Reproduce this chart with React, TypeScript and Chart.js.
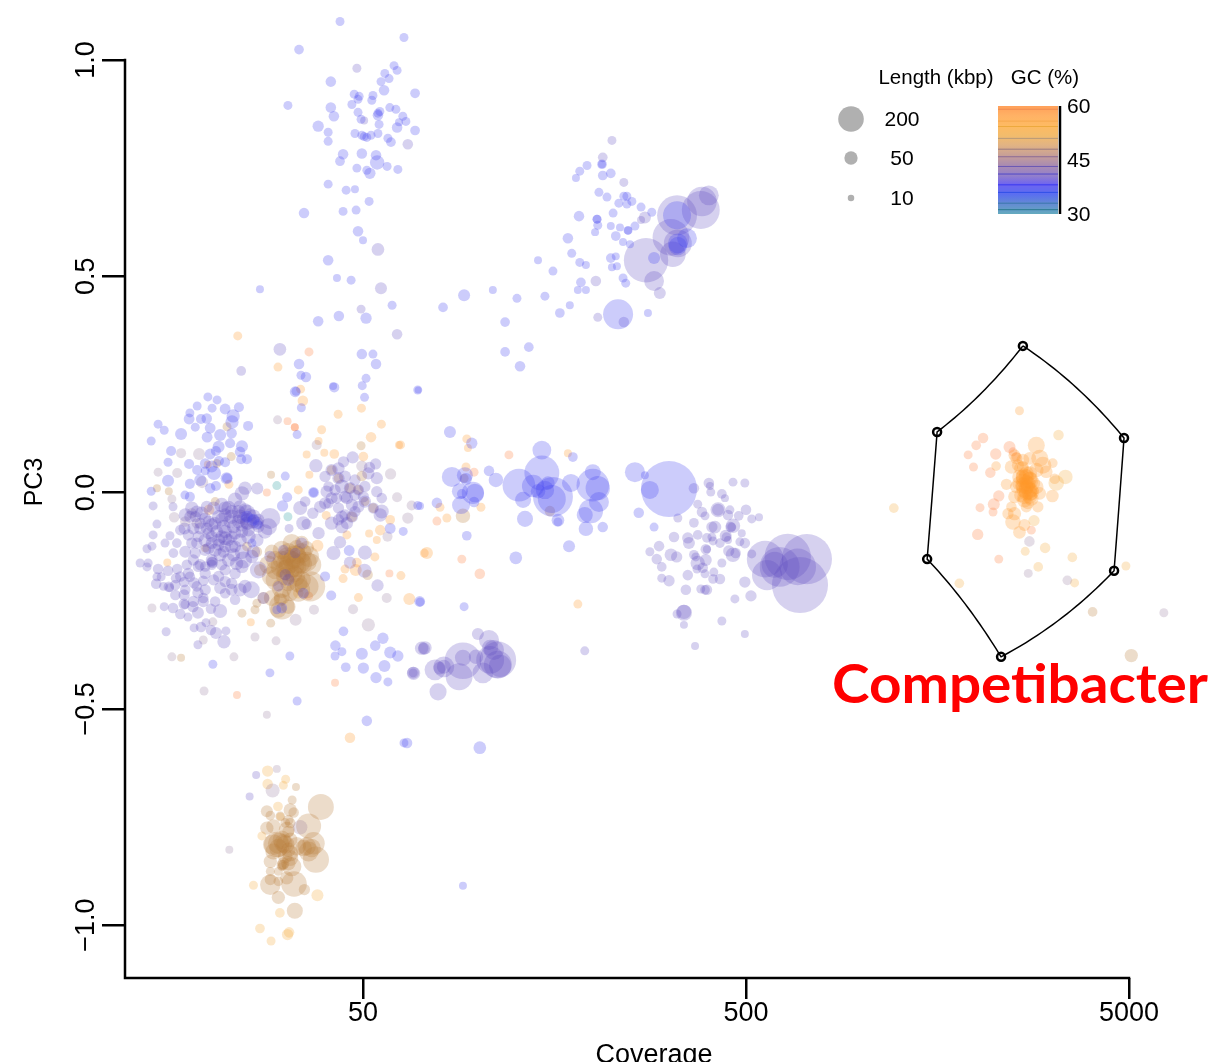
import React, { useEffect, useRef } from "react";
import { Chart, registerables } from "chart.js";

Chart.register(...registerables);

// Every point: [log10(coverage), PC3, contig length in kbp]
type P = [number, number, number];

const topCloudBlue: P[] = [
[1.639,1.089,21],[1.806,1.052,21],[1.532,1.024,25],[1.780,.987,21],[1.788,.976,21],[1.756,.969,21],[1.767,.957,21],[1.746,.950,21],[1.615,.950,30],[1.754,.930,30],[1.835,.923,25],[1.676,.921,21],[1.689,.916,21],[1.686,.909,21],[1.725,.918,21],[1.722,.907,21],[1.503,.895,21],[1.670,.897,21],[1.615,.890,30],[1.769,.890,21],[1.785,.886,21],[1.743,.881,21],[1.738,.872,30],[1.738,.877,21],[1.686,.879,21],[1.623,.870,30],[1.803,.870,21],[1.694,.863,21],[1.811,.858,21],[1.582,.847,35],[1.741,.851,21],[1.788,.844,30],[1.793,.856,16],[1.835,.837,25],[1.608,.833,21],[1.678,.830,21],[1.696,.826,21],[1.709,.821,21],[1.720,.826,21],[1.702,.823,21],[1.738,.830,21],[1.764,.819,21],[1.772,.810,25],[1.608,.812,21],[1.647,.782,30],[1.696,.784,30],[1.733,.780,30],[1.639,.766,25],[1.736,.763,60],[1.683,.750,21],[1.762,.754,21],[1.709,.745,21],[1.717,.738,35],[1.790,.747,21],[1.608,.713,21],[1.655,.699,21],[1.678,.701,16],[1.715,.673,21],[1.545,.646,30],[1.647,.650,21],[1.681,.653,21],[1.686,.604,30],[1.699,.583,16],[1.608,.537,30],[1.631,.496,16],[1.668,.491,21],[1.775,.433,21],[1.707,.403,35],[1.636,.408,30],[1.582,.396,30],[1.532,.297,30],[1.550,.267,30],[1.696,.320,30],[1.725,.320,21],[1.733,.297,30],[1.707,.264,21],[1.430,.470,16],[1.843,.237,12],[1.621,.246,16],[1.524,.234,21],[1.537,.271,21]
];
const topCloudPurple: P[] = [
[1.683,.981,21],[1.702,.860,16],[1.816,.805,30],[1.738,.562,45],[1.746,.472,40],[1.694,.424,21],[1.788,.366,30],[1.482,.331,45],[1.381,.281,25]
];
const upperRightBlue: P[] = [
[2.323,.759,25],[2.323,.759,16],[2.284,.756,21],[2.265,.743,21],[2.325,.733,25],[2.346,.738,25],[2.255,.727,16],[2.315,.694,21],[2.336,.683,21],[2.388,.685,21],[2.380,.685,21],[2.367,.669,21],[2.388,.667,21],[2.401,.673,21],[2.425,.660,21],[2.453,.648,21],[2.352,.646,21],[2.263,.639,30],[2.310,.632,21],[2.310,.632,21],[2.312,.618,21],[2.305,.602,16],[2.346,.616,16],[2.370,.613,16],[2.391,.606,21],[2.391,.606,16],[2.409,.616,21],[2.359,.593,25],[2.234,.588,30],[2.378,.579,16],[2.396,.574,16],[2.244,.553,21],[2.346,.542,25],[2.359,.546,16],[2.265,.532,21],[2.281,.526,16],[2.349,.521,16],[2.362,.523,16],[2.156,.537,16],[2.195,.512,21],[2.378,.496,21],[2.385,.484,21],[2.268,.486,25],[2.260,.468,16],[2.281,.468,16],[1.963,.456,40],[1.908,.428,25],[2.038,.468,16],[2.101,.449,21],[2.174,.454,21],[2.239,.433,16],[2.213,.415,25],[2.070,.394,25],[2.443,.415,16],[2.365,.412,278],[2.070,.325,25],[2.132,.336,25],[2.109,.292,30],[2.459,.542,40],[2.519,.641,240],[2.545,.588,117],[2.521,.576,117],[2.521,.57,100]
];
const upperRightPurple: P[] = [
[2.349,.814,21],[2.325,.775,25],[2.380,.717,21],[2.435,.636,40],[2.425,.630,16],[2.307,.489,30],[2.312,.405,21],[2.380,.394,30],[2.438,.537,620],[2.459,.489,117],[2.474,.461,40],[2.519,.641,500],[2.581,.653,450],[2.584,.673,270],[2.602,.687,117],[2.503,.590,420],[2.508,.551,200],[2.521,.576,240]
];
const midBlue: P[] = [
[1.926,.140,40],[1.983,.114,35],[2.247,.082,25],[2.166,.098,105],[2.166,.045,380],[2.106,.017,330],[2.299,.047,75],[2.299,.017,330],[2.312,.010,180],[2.242,.022,96],[2.195,-.010,500],[2.192,-.015,240],[2.182,.022,50],[2.143,.015,150],[2.174,.006,100],[2.156,.003,60],[2.117,-.017,75],[2.315,-.022,120],[2.294,-.043,180],[2.278,-.052,75],[2.122,-.061,75],[2.208,-.064,45],[2.208,-.068,21],[2.281,-.084,60],[2.325,-.080,30],[2.237,-.124,40],[2.098,-.151,45],[1.970,-.100,25],[1.963,-.264,21],[1.931,.036,120],[1.965,.040,75],[1.968,.031,40],[2.028,.050,30],[2.046,.029,60],[1.952,.003,75],[1.986,-.001,150],[1.991,-.001,100],[1.957,-.003,25],[1.989,-.022,30],[1.955,-.029,96],[1.892,-.024,30],[1.848,-.031,16],[2.498,.008,1000],[2.409,.047,120],[2.448,.006,96],[2.435,.040,16],[2.419,-.047,30],[2.459,-.080,21]
];
const rightSwarmPurple: P[] = [
[2.563,.010,30],[2.602,.022,30],[2.605,.015,16],[2.665,.024,21],[2.696,.022,21],[2.607,.001,21],[2.636,-.003,25],[2.644,-.013,16],[2.573,-.027,21],[2.584,-.045,30],[2.592,-.054,21],[2.626,-.040,65],[2.626,-.040,40],[2.657,-.040,21],[2.652,-.052,30],[2.699,-.040,30],[2.680,-.054,25],[2.714,-.061,21],[2.733,-.057,16],[2.521,-.059,21],[2.563,-.070,25],[2.659,-.080,30],[2.665,-.077,60],[2.662,-.080,21],[2.618,-.080,45],[2.610,-.080,35],[2.646,-.100,40],[2.648,-.103,25],[2.688,-.094,16],[2.573,-.098,25],[2.511,-.103,30],[2.547,-.105,35],[2.550,-.117,40],[2.597,-.105,25],[2.610,-.103,21],[2.613,-.112,21],[2.631,-.117,25],[2.652,-.110,16],[2.683,-.114,21],[2.696,-.117,30],[2.472,-.124,30],[2.448,-.137,21],[2.594,-.131,30],[2.597,-.131,16],[2.503,-.144,45],[2.518,-.149,35],[2.654,-.135,35],[2.665,-.144,60],[2.672,-.140,30],[2.714,-.142,21],[2.466,-.154,30],[2.479,-.172,25],[2.563,-.144,25],[2.568,-.149,21],[2.594,-.156,40],[2.573,-.163,60],[2.586,-.174,30],[2.571,-.177,21],[2.592,-.188,21],[2.615,-.184,21],[2.636,-.163,21],[2.613,-.200,25],[2.631,-.200,30],[2.547,-.191,30],[2.479,-.198,21],[2.498,-.204,35],[2.542,-.225,30],[2.581,-.223,21],[2.597,-.225,30],[2.592,-.225,25],[2.696,-.207,35],[2.712,-.239,35],[2.670,-.246,21],[2.636,-.297,21],[2.696,-.327,16],[2.566,-.355,16],[2.537,-.278,75],[2.537,-.276,60],[2.519,-.281,21],[2.537,-.306,16],[2.278,-.366,21],[2.749,-.154,420],[2.754,-.191,280],[2.787,-.172,500],[2.808,-.149,680],[2.858,-.154,800],[2.840,-.214,1000],[2.834,-.172,420],[2.774,-.167,210]
];
const lowerClusterPurple: P[] = [
[1.999,-.327,40],[2.028,-.341,120],[2.041,-.364,120],[2.031,-.359,75],[2.051,-.387,420],[2.051,-.398,240],[2.057,-.401,150],[2.031,-.387,240],[1.994,-.380,60],[1.960,-.389,420],[1.960,-.382,75],[1.950,-.426,220],[2.012,-.417,130],[1.910,-.403,130],[1.910,-.403,56],[1.887,-.410,130],[1.899,-.406,45],[1.895,-.461,85],[1.861,-.359,50],[1.858,-.361,40],[1.830,-.417,40],[1.830,-.417,21],[1.831,-.418,50],[1.852,-.360,50]
];
const lowerScatterBlue: P[] = [
[1.648,-.321,25],[1.627,-.354,30],[1.644,-.368,21],[1.626,-.378,21],[1.696,-.373,40],[1.731,-.354,30],[1.751,-.337,35],[1.770,-.370,40],[1.790,-.378,35],[1.755,-.401,40],[1.700,-.406,35],[1.654,-.404,25],[1.733,-.428,35],[1.764,-.438,21],[1.709,-.528,30],[1.814,-.579,30],[1.806,-.579,21],[2.004,-.590,45],[1.960,-.909,16],[1.848,-.253,21],[1.527,-.482,21]
];
const leftSwarmBlue: P[] = [
[1.294,.221,21],[1.318,.214,21],[1.266,.200,21],[1.247,.184,21],[1.305,.195,21],[1.339,.193,32],[1.375,.197,27],[1.245,.170,32],[1.276,.170,27],[1.360,.177,50],[1.357,.163,50],[1.164,.158,21],[1.180,.144,21],[1.224,.135,40],[1.261,.151,21],[1.300,.149,32],[1.399,.154,27],[1.326,.133,40],[1.292,.128,32],[1.146,.119,21],[1.352,.114,27],[1.383,.107,40],[1.198,.096,27],[1.315,.096,27],[1.300,.089,32],[1.190,.070,21],[1.245,.066,27],[1.339,.070,27],[1.323,.073,27],[1.381,.077,27],[1.396,.077,27],[1.266,.052,27],[1.287,.050,21],[1.310,.045,56],[1.344,.033,27],[1.190,.027,40],[1.247,.020,27],[1.315,.015,27],[1.146,.003,21],[1.234,-.006,21],[1.247,-.010,27],[1.409,-.117,21],[1.307,-.397,21],[1.456,-.417,21],[1.508,-.378,21],[1.522,.233,32],[1.624,.243,27],[1.697,.247,21],[1.703,.220,21],[1.538,.196,21],[1.527,.134,21],[1.842,.237,21],[1.496,.038,21],[1.501,-.011,27],[1.489,-.031,35],[1.570,.000,32],[1.570,.000,21],[1.663,-.134,32],[1.847,-.252,32],[1.842,-.030,21],[1.770,-.083,32],[1.804,-.090,21],[1.543,-.233,32],[1.600,-.194,27],[1.616,-.238,27],[1.487,-.267,32],[1.474,-.271,21],
[1.396,-.056,40],[1.413,-.063,40],[1.424,-.073,25],
[1.291,.171,30],[1.356,.137,30],[1.322,.106,40],[1.378,.094,30],[1.287,.067,30],[1.304,.060,40],[1.274,.029,40],[1.300,.010,30],[1.343,.033,40]
];
const leftCorePurple: P[] = [
[1.235,-.052,50],[1.252,-.036,50],[1.261,-.056,35],[1.278,-.048,50],[1.291,-.033,40],[1.309,-.036,50],[1.330,-.029,60],[1.348,-.036,60],[1.365,-.017,60],[1.383,-.002,60],[1.391,.010,50],[1.378,-.033,50],[1.396,-.048,85],[1.413,-.056,60],[1.400,-.067,85],[1.378,-.056,60],[1.356,-.056,60],[1.339,-.052,50],[1.322,-.056,50],[1.304,-.075,50],[1.291,-.083,40],[1.274,-.071,35],[1.256,-.083,40],[1.233,-.083,40],[1.335,-.079,56],[1.361,-.079,50],[1.383,-.075,50],[1.422,-.071,50],[1.443,-.090,60],[1.456,-.060,130],[1.452,-.079,85],[1.339,-.106,56],[1.322,-.110,50],[1.356,-.102,40],[1.304,-.102,40],[1.287,-.110,50],[1.269,-.102,35],[1.252,-.117,35],[1.235,-.137,40],[1.261,-.140,35],[1.287,-.133,40],[1.313,-.133,50],[1.335,-.137,40],[1.361,-.144,50],[1.387,-.156,85],[1.304,-.156,40],[1.306,-.162,35],[1.269,-.171,35],[1.339,-.179,35],[1.365,-.187,35],[1.383,-.171,50],[1.409,-.148,50],[1.274,-.167,35],[1.243,-.187,35],[1.322,-.194,35],[1.339,-.206,35],[1.356,-.210,35],[1.378,-.225,50],[1.407,-.225,85],[1.391,-.217,50],[1.426,-.179,85],
[1.339,-.036,50],[1.356,-.044,50],[1.374,-.044,50],[1.391,-.040,50],[1.404,-.052,50],[1.387,-.060,50],[1.413,-.067,50],[1.426,-.063,40],[1.396,-.071,50],[1.374,-.067,50],[1.352,-.067,50],[1.330,-.063,50],[1.313,-.071,45],[1.296,-.067,40],[1.339,-.090,50],[1.317,-.090,45],[1.296,-.094,40],[1.365,-.094,45],[1.383,-.090,45],[1.400,-.087,45],[1.426,-.079,40],[1.330,-.102,45],[1.348,-.110,40],[1.322,-.121,40],[1.304,-.117,40],[1.339,-.125,40],[1.365,-.125,40],[1.304,-.160,30],[1.304,-.167,30],[1.287,-.171,30],
[1.151,-.031,21],[1.203,-.033,21],[1.161,-.073,21],[1.151,-.098,21],[1.195,-.100,21],[1.135,-.130,21],[1.148,-.124,21],[1.117,-.163,21],[1.138,-.163,21],[1.135,-.172,21],[1.164,-.177,30],[1.190,-.181,30],[1.214,-.177,30],[1.161,-.195,21],[1.172,-.195,21],[1.159,-.211,30],[1.211,-.198,30],[1.192,-.218,30],[1.194,-.220,21],[1.232,-.207,30],[1.247,-.195,30],[1.258,-.209,35],[1.282,-.204,30],[1.209,-.237,30],[1.232,-.237,35],[1.268,-.232,35],[1.282,-.244,30],[1.232,-.258,35],[1.234,-.259,21],[1.180,-.264,21],[1.203,-.267,30],[1.255,-.264,35],[1.222,-.281,30],[1.268,-.278,40],[1.242,-.288,21],[1.302,-.269,30],[1.326,-.274,56],[1.258,-.313,21],[1.276,-.311,30],[1.289,-.301,21],[1.302,-.318,30],[1.315,-.325,40],[1.341,-.320,21],[1.268,-.352,21],[1.336,-.345,50],[1.185,-.322,21],
[1.478,-.217,30],[1.496,-.190,35],[1.491,-.133,30],[1.456,-.148,35],[1.522,-.140,30],[1.504,-.202,40],[1.539,-.117,35],[1.439,-.244,40],[1.423,.009,40],
[1.248,-.056,40],[1.265,-.044,40],[1.287,-.060,40],[1.274,-.083,40],[1.243,-.098,35],[1.265,-.117,35],[1.296,-.129,40],[1.326,-.144,50],[1.348,-.156,50],[1.369,-.164,50],[1.330,-.167,35],[1.356,-.125,50],[1.378,-.110,50],[1.400,-.102,60],[1.422,-.110,50],[1.413,-.137,50],[1.383,-.137,60],[1.256,-.156,35],[1.239,-.167,30],[1.287,-.187,35],[1.309,-.202,35],[1.326,-.221,40],[1.287,-.225,35],[1.265,-.217,30],[1.235,-.225,30],[1.209,-.214,30],[1.256,-.252,35],[1.282,-.252,35],[1.313,-.252,30],[1.356,-.225,40],[1.365,-.248,30],[1.339,-.233,30],[1.222,-.194,30],[1.204,-.140,25],[1.213,-.117,25],[1.222,-.087,30],[1.182,-.117,21],[1.178,-.217,21]
];
const centreSwarmPurple: P[] = [
[1.576,.062,50],[1.617,.052,42],[1.635,.056,42],[1.648,.071,35],[1.672,.081,42],[1.716,.058,35],[1.732,.066,35],[1.713,.044,42],[1.735,.033,42],[1.600,.037,35],[1.635,.033,42],[1.609,.014,30],[1.626,.006,35],[1.644,.014,56],[1.665,.010,42],[1.687,.006,35],[1.704,.014,35],[1.735,.002,35],[1.748,-.013,30],[1.678,-.006,35],[1.700,-.010,35],[1.630,-.013,35],[1.657,-.013,42],[1.604,.002,42],[1.548,-.021,30],[1.535,-.036,56],[1.568,-.048,35],[1.587,-.033,42],[1.609,-.025,30],[1.635,-.036,35],[1.670,-.029,42],[1.704,-.021,42],[1.726,-.036,35],[1.748,-.044,56],[1.744,-.052,50],[1.644,-.056,42],[1.670,-.056,42],[1.657,-.071,42],[1.617,-.071,50],[1.644,-.079,50],[1.583,-.094,42],[1.543,-.071,56],[1.552,-.073,30],[1.506,-.083,21],[1.704,-.139,56],[1.622,-.140,56],[1.639,-.115,42],[1.665,-.162,42],[1.703,-.181,56],[1.737,-.215,42],
[1.600,-.025,40],[1.617,-.013,40],[1.678,.029,35],[1.652,.037,40],[1.652,-.010,40],[1.687,-.033,40],[1.678,-.044,35],[1.635,-.063,35],[1.652,-.052,35]
];
const mauveScattered: P[] = [
[1.224,.091,27],[1.271,.089,40],[1.164,.047,21],[1.214,.045,27],[1.279,.024,40],[1.200,-.015,21],[1.282,-.341,21],[1.417,-.334,21],[1.472,-.343,21],[1.200,-.380,21],[1.362,-.380,21],[1.307,-.299,21],[1.696,.061,35],[1.771,.043,35],[1.788,-.011,27],[1.826,-.030,27],[1.816,-.059,35],[1.763,-.102,27],[1.761,-.244,27],[1.673,-.270,27],[1.476,.168,21],[1.578,.110,27],[1.571,-.271,27],[1.523,-.294,40],[1.713,-.306,50],[1.448,-.514,16],[1.284,-.459,21],[1.350,-.826,16],[1.474,-.639,16],[1.463,-.689,56],[1.535,-.774,60],[1.148,-.267,21],[3.439,-.113,30],[3.436,-.187,21],[3.538,-.203,25],[3.790,-.278,21],[1.206,-.057,30],[1.252,-.048,30],[1.235,-.067,30],[1.265,-.071,30]
];
const brownCluster: P[] = [
[1.513,-.117,100],[1.539,-.117,60],[1.461,-.137,60],[1.487,-.133,100],[1.526,-.144,100],[1.557,-.148,130],[1.504,-.160,175],[1.522,-.171,150],[1.487,-.156,100],[1.539,-.164,130],[1.561,-.167,150],[1.470,-.179,100],[1.496,-.179,120],[1.517,-.187,100],[1.474,-.202,150],[1.504,-.210,75],[1.539,-.202,100],[1.552,-.217,170],[1.487,-.241,75],[1.461,-.244,75],[1.483,-.248,50],[1.504,-.264,60],[1.478,-.271,75],[1.439,-.244,40],[1.430,-.179,40],[1.422,-.137,30],[1.396,-.125,25],
[1.504,-.140,120],[1.522,-.148,150],[1.539,-.140,120],[1.487,-.171,150],[1.513,-.167,200],[1.530,-.160,175],[1.552,-.160,120],[1.504,-.179,150],[1.522,-.194,120],[1.496,-.194,100],[1.470,-.156,100],[1.452,-.167,100],[1.461,-.194,120],[1.530,-.210,100],[1.487,-.221,120],[1.509,-.233,75],[1.513,-.156,100],[1.500,-.148,100],[1.526,-.129,80],[1.552,-.129,60],[1.530,-.225,170],[1.487,-.264,200],[1.561,-.217,280],
[1.665,.010,30],[1.635,.033,25],[1.726,-.036,25],[1.687,.006,25],[1.670,-.056,30],[1.696,.038,30],[1.617,.052,25],[1.704,-.021,21],[1.313,-.021,21],[1.344,.152,21],[1.694,.108,21],[1.355,.083,21],[1.317,.067,21],[1.287,-.129,16],[1.459,.041,16],[1.711,-.190,30],[1.224,-.382,16],[1.422,-.256,21],[1.417,-.271,21],[1.458,-.302,21],[1.383,-.279,21],[1.161,.010,16],[1.192,.003,16],[2.187,-.043,30],[1.960,-.054,60],[1.963,.033,21]
];
const bottomBrown: P[] = [
[1.524,-.681,16],[1.514,-.711,21],[1.589,-.727,205],[1.448,-.737,40],[1.457,-.747,25],[1.509,-.734,50],[1.518,-.740,30],[1.465,-.772,60],[1.448,-.776,50],[1.504,-.757,30],[1.557,-.771,190],[1.500,-.780,75],[1.478,-.811,130],[1.474,-.814,200],[1.491,-.811,100],[1.465,-.814,130],[1.509,-.803,60],[1.504,-.826,60],[1.526,-.818,100],[1.552,-.818,100],[1.570,-.811,150],[1.557,-.830,120],[1.509,-.845,75],[1.487,-.861,30],[1.491,-.857,40],[1.513,-.865,110],[1.576,-.849,210],[1.457,-.853,50],[1.478,-.876,21],[1.457,-.876,21],[1.457,-.895,35],[1.457,-.907,125],[1.519,-.905,200],[1.478,-.899,25],[1.500,-.891,50],[1.546,-.918,35],[1.478,-.936,50],[1.521,-.967,75],[3.604,-.276,25],[3.705,-.377,50],
[1.487,-.803,100],[1.496,-.814,100],[1.478,-.822,100],[1.509,-.834,75],[1.496,-.841,60],[1.544,-.822,80],[1.565,-.822,100],[1.504,-.784,40],[1.491,-.861,30],[1.487,-.865,21],[1.465,-.830,75],[1.504,-.857,60],[1.483,-.749,25],[1.496,-.764,25],[1.509,-.764,30]
];
const bottomPurple: P[] = [[1.420,-.653,16],[1.403,-.703,16]];
const yellowScattered: P[] = [
[1.450,-.644,35],[1.497,-.663,21],[1.450,-.674,30],[1.491,-.677,21],[1.477,-.726,25],[1.413,-.908,21],[1.580,-.931,40],[1.482,-.972,25],[1.430,-1.008,25],[1.459,-1.037,21],[1.502,-1.022,35],[1.506,-1.017,30],[1.435,-.794,21],[1.483,-.749,16],[1.530,-.233,30],[3.515,.133,30],[3.509,.022,70],[3.533,.036,60],[3.451,-.065,35],[3.428,-.136,21],[3.480,-.128,30],[3.551,-.150,25],[3.462,-.172,25],[3.557,-.209,21],[3.256,-.210,25],[3.085,-.036,25],[3.691,-.170,21]
];
const orangeScattered: P[] = [
[1.536,.239,21],[1.542,.212,30],[1.634,.181,21],[1.695,.195,21],[1.747,.158,21],[1.591,.145,21],[1.720,.128,30],[1.797,.110,21],[1.552,.088,16],[1.598,.092,16],[1.624,.089,25],[1.700,.083,25],[1.583,.119,16],[1.559,.041,16],[1.530,.006,21],[1.603,-.053,21],[1.580,-.123,40],[1.657,-.098,21],[1.715,-.095,16],[1.735,-.110,16],[1.744,-.087,30],[1.770,-.063,25],[1.730,-.149,21],[1.652,-.177,21],[1.680,-.179,40],[1.683,-.162,25],[1.798,-.192,21],[1.647,-.199,21],[1.687,-.243,21],[1.820,-.246,40],[1.859,-.140,21],[1.188,-.162,16],[1.349,.019,21],[1.294,.065,16],[1.297,-.040,30],[1.406,-.300,16],[1.665,-.567,30],[1.372,.362,21],[1.477,.290,21],[1.793,.110,16],[1.970,.124,21],[1.973,.103,16],[2.234,.091,16],[1.968,.059,21],[2.007,-.034,21],[1.900,-.034,21],[1.918,-.059,21],[1.866,-.140,40],[2.260,-.258,21]
];
const orangeHullCloud: P[] = [
[3.413,.189,21],[3.352,.061,25],[3.457,.109,85],[3.392,.059,50],[3.422,.075,45],[3.440,.079,45],[3.466,.079,85],[3.474,.063,85],[3.500,.068,25],[3.483,.048,45],[3.457,.052,60],[3.418,.055,60],[3.426,.036,85],[3.413,.036,60],[3.440,.028,85],[3.422,.017,70],[3.457,.013,60],[3.435,.005,100],[3.466,-.002,45],[3.405,.013,45],[3.379,.019,35],[3.418,-.006,60],[3.444,-.014,60],[3.426,-.018,60],[3.400,-.010,45],[3.392,-.033,30],[3.431,-.033,35],[3.461,-.033,35],[3.400,-.049,50],[3.383,-.049,35],[3.396,-.068,70],[3.499,-.008,45],[3.505,.032,30],[3.426,-.075,40],[3.413,-.092,45],[3.431,.036,70],[3.435,.020,70],[3.440,-.002,70],[3.431,.013,60],[3.422,.028,60],[3.440,.044,60],[3.444,.000,70],[3.426,.005,70],
[3.431,.044,60],[3.422,.036,60],[3.440,.032,60],[3.431,.025,60],[3.422,.013,60],[3.435,.013,60],[3.444,.005,60],[3.431,-.002,60],[3.440,-.010,60],[3.426,-.010,60],[3.413,.021,60],[3.448,.021,60],[3.400,.086,40],[3.405,.079,40],[3.409,.063,40],[3.422,.059,40],[3.435,-.025,40]
];
const salmonScattered: P[] = [
[1.558,.325,21],[1.448,.000,16],[1.502,.165,16],[1.521,.151,16],[1.521,.151,16],[1.768,-.187,16],[1.557,-.239,21],[1.626,-.440,16],[1.370,-.468,16],[2.080,.087,21],[1.989,.047,21],[1.892,-.066,21],[1.957,-.154,21],[2.004,-.188,30],
[3.318,.126,30],[3.300,.109,25],[3.279,.087,21],[3.293,.059,21],[3.351,.089,35],[3.337,.046,30],[3.387,.105,40],[3.396,.094,21],[3.405,.082,25],[3.359,-.008,35],[3.346,-.027,40],[3.344,-.045,21],[3.310,-.035,21],[3.304,-.097,35],[3.444,-.087,21],[3.359,-.154,21]
];
const tealScattered: P[] = [[1.474,.016,21],[1.503,-.056,21]];

const hullLogCoverage = [3.422, 3.686, 3.660, 3.365, 3.172, 3.198];
const hullPc3 = [0.339, 0.126, -0.181, -0.380, -0.154, 0.140];

const xTicks = [50, 500, 5000];
const yTicks = [-1, -0.5, 0, 0.5, 1];
const legendLengths = [200, 50, 10];
const colourbarTicks = [60, 45, 30];
const colourbarStops = ["#ffa05a","#ffb265","#feba62","#f2bc6c","#e1b384","#c8a096","#ab8cb0","#9682c8","#6e64f0","#5a6ef0","#648cd2","#64aabe"];
const colourbarLines = ["#f08a50","#f6a84e","#eda93e","#b89a78","#9a7a80","#8a6a96","#6a58b4","#5048c8","#3838f0","#3050e8","#3a78a8","#2a7a90"];
const colourbarLinePos = [0.03, 0.14, 0.19, 0.30, 0.40, 0.47, 0.56, 0.63, 0.73, 0.80, 0.90, 0.96];

const gcColours: Record<number, string> = {
  33: "rgba(60,165,170,0.30)",
  38: "rgba(65,65,240,0.27)",
  42: "rgba(90,70,190,0.25)",
  46: "rgba(130,100,140,0.22)",
  50: "rgba(185,125,60,0.27)",
  54: "rgba(245,170,60,0.27)",
  57: "rgba(255,150,40,0.27)",
  60: "rgba(255,125,60,0.27)",
};

const seriesByGc: [P[], number][] = [
  [leftSwarmBlue, 38], [leftCorePurple, 42], [centreSwarmPurple, 42], [topCloudBlue, 38], [topCloudPurple, 42],
  [upperRightBlue, 38], [upperRightPurple, 42], [midBlue, 38], [rightSwarmPurple, 42], [lowerClusterPurple, 42],
  [lowerScatterBlue, 38], [mauveScattered, 46], [brownCluster, 50], [bottomBrown, 50], [bottomPurple, 42],
  [yellowScattered, 54], [orangeScattered, 57], [orangeHullCloud, 57], [salmonScattered, 60], [tealScattered, 33],
];

const bubbleRadius = (len: number) => 0.5 + 0.87 * Math.sqrt(len);
const SANS = '"Liberation Sans", Arial, sans-serif';

const overlay = {
  id: "overlay",
  afterDatasetsDraw(chart: any) {
    const { ctx, scales } = chart;
    const x = scales.x, y = scales.y;
    ctx.save();
    // R-style axis lines that stop at the outer tick / corner
    ctx.strokeStyle = "#000";
    ctx.lineWidth = 2.5;
    ctx.lineCap = "square";
    ctx.beginPath();
    ctx.moveTo(chart.chartArea.left, y.getPixelForValue(1));
    ctx.lineTo(chart.chartArea.left, chart.chartArea.bottom);
    ctx.lineTo(x.getPixelForValue(5000), chart.chartArea.bottom);
    ctx.stroke();
    ctx.lineCap = "butt";

    // hull: edges are straight in linear coverage, hence curved on the log axis
    ctx.lineWidth = 1.5;
    ctx.beginPath();
    hullLogCoverage.forEach((lc, i) => {
      const j = (i + 1) % hullLogCoverage.length;
      const c0 = 10 ** lc, c1 = 10 ** hullLogCoverage[j];
      for (let k = 0; k <= 24; k++) {
        const t = k / 24;
        const px = x.getPixelForValue(c0 + (c1 - c0) * t);
        const py = y.getPixelForValue(hullPc3[i] + (hullPc3[j] - hullPc3[i]) * t);
        if (i === 0 && k === 0) ctx.moveTo(px, py); else ctx.lineTo(px, py);
      }
    });
    ctx.stroke();

    ctx.fillStyle = "#000";
    ctx.textBaseline = "middle";
    ctx.textAlign = "center";
    // axis titles
    ctx.font = `27px ${SANS}`;
    ctx.fillText("Coverage", 654, 1056);
    ctx.save();
    ctx.translate(35, 482);
    ctx.rotate(-Math.PI / 2);
    ctx.font = `25px ${SANS}`;
    ctx.fillText("PC3", 0, 0);
    ctx.restore();

    // size legend
    ctx.font = `20.5px ${SANS}`;
    ctx.fillText("Length (kbp)", 936, 78);
    ctx.fillText("GC (%)", 1045, 78);
    ctx.font = `21px ${SANS}`;
    const ly = [120, 159, 199];
    const lx = [902, 902, 902];
    legendLengths.forEach((len, i) => {
      ctx.fillStyle = "#b0b0b0";
      ctx.beginPath();
      ctx.arc(851, ly[i] - 1, bubbleRadius(len), 0, Math.PI * 2);
      ctx.fill();
      ctx.fillStyle = "#000";
      ctx.fillText(String(len), lx[i], ly[i]);
    });

    // colour bar
    const bx = 998, bw = 60, by = 106, bh = 108;
    const grad = ctx.createLinearGradient(0, by, 0, by + bh);
    colourbarStops.forEach((c, i) => grad.addColorStop(i / (colourbarStops.length - 1), c));
    ctx.fillStyle = grad;
    ctx.fillRect(bx, by, bw, bh);
    ctx.lineWidth = 1;
    colourbarLinePos.forEach((p, i) => {
      ctx.strokeStyle = colourbarLines[i];
      ctx.beginPath();
      ctx.moveTo(bx, by + p * bh);
      ctx.lineTo(bx + bw, by + p * bh);
      ctx.stroke();
    });
    ctx.strokeStyle = "#000";
    ctx.lineWidth = 2.5;
    ctx.beginPath();
    ctx.moveTo(bx + bw + 2, by);
    ctx.lineTo(bx + bw + 2, by + bh);
    ctx.stroke();
    ctx.fillStyle = "#000";
    ctx.textAlign = "left";
    ctx.font = `21px ${SANS}`;
    colourbarTicks.forEach((t, i) => {
      ctx.fillText(String(t), 1067, by + (i * bh) / 2 + 1);
    });

    // annotation
    ctx.fillStyle = "#ff0000";
    ctx.textAlign = "left";
    ctx.textBaseline = "alphabetic";
    ctx.font = `bold 54px Lato, "Open Sans", sans-serif`;
    const w = ctx.measureText("Competibacter").width;
    ctx.translate(832, 703);
    ctx.scale(376 / w, 1);
    ctx.fillText("Competibacter", 0, 0);
    ctx.restore();
  },
};

const noScalePadding = (s: any) => {
  s.paddingLeft = 0;
  s.paddingRight = 0;
  s.paddingTop = 0;
  s.paddingBottom = 0;
};

export default function App() {
  const ref = useRef<HTMLCanvasElement | null>(null);
  useEffect(() => {
    const datasets: any[] = seriesByGc.map(([pts, gc]) => ({
      type: "scatter",
      data: pts.map(([c, p, l]) => ({ x: 10 ** c, y: p, len: l })),
      backgroundColor: gcColours[gc],
      borderWidth: 0,
      pointRadius: (ctx: any) => (ctx.raw ? bubbleRadius(ctx.raw.len) : 3),
      pointHoverRadius: (ctx: any) => (ctx.raw ? bubbleRadius(ctx.raw.len) : 3),
      clip: false,
    }));
    datasets.push({
      type: "scatter",
      data: hullLogCoverage.map((c, i) => ({ x: 10 ** c, y: hullPc3[i] })),
      backgroundColor: "rgba(0,0,0,0)",
      borderColor: "#000",
      pointBorderColor: "#000",
      pointBorderWidth: 2.5,
      pointRadius: 4,
      clip: false,
    });
    const chart = new Chart(ref.current as HTMLCanvasElement, {
      type: "scatter",
      data: { datasets },
      plugins: [overlay],
      options: {
        animation: false,
        responsive: false,
        devicePixelRatio: 1,
        layout: { autoPadding: false, padding: { top: 18, right: 11, left: 0, bottom: 0 } },
        plugins: { legend: { display: false }, tooltip: { enabled: false } },
        scales: {
          x: {
            type: "logarithmic",
            bounds: "data",
            min: 10 ** 1.0776,
            max: 10 ** 3.8844,
            afterFit: (s: any) => { s.height = 84; noScalePadding(s); },
            afterBuildTicks: (s: any) => { s.ticks = xTicks.map((value) => ({ value })); },
            border: { display: false },
            grid: { drawOnChartArea: false, drawTicks: true, tickLength: 21, color: "#000", lineWidth: 2.5 },
            ticks: {
              autoSkip: false, maxRotation: 0, minRotation: 0, padding: -2, color: "#000",
              font: { family: SANS, size: 27 },
              callback: (v: any) => String(v),
            },
          },
          y: {
            type: "linear",
            bounds: "data",
            min: -1.1225,
            max: 1.0971,
            afterFit: (s: any) => { s.width = 125; noScalePadding(s); },
            afterBuildTicks: (s: any) => { s.ticks = yTicks.map((value) => ({ value })); },
            border: { display: false },
            grid: { drawOnChartArea: false, drawTicks: true, tickLength: 23, color: "#000", lineWidth: 2.5 },
            ticks: {
              autoSkip: false, minRotation: 90, maxRotation: 90, padding: -11, color: "#000", crossAlign: "center",
              font: { family: SANS, size: 27 },
              callback: (v: any) => (v < 0 ? "\u2212" : "") + Math.abs(v).toFixed(1),
            },
          },
        },
      },
    } as any);
    return () => chart.destroy();
  }, []);
  return (
    <canvas
      ref={ref}
      width={1211}
      height={1062}
      style={{ position: "absolute", left: 0, top: 0, width: 1211, height: 1062, display: "block" }}
    />
  );
}
